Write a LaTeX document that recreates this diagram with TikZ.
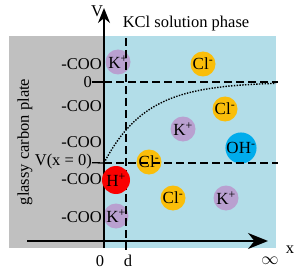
\documentclass[tikz,border=0pt]{standalone}
\usepackage{fontspec}
\setmainfont{Liberation Serif}
\usepackage{tikz}
\usetikzlibrary{arrows.meta,positioning}

\definecolor{plategray}{RGB}{192,192,192}
\definecolor{solblue}{RGB}{178,221,232}
\definecolor{kpurple}{RGB}{185,160,208}
\definecolor{clyellow}{RGB}{250,190,10}
\definecolor{ohblue}{RGB}{0,172,236}
\definecolor{hred}{RGB}{250,0,0}

\tikzset{
  ion/.style={circle,inner sep=0pt,minimum size=25pt,font=\fontsize{17}{19}\selectfont},
  kion/.style={ion,fill=kpurple},
  clion/.style={ion,fill=clyellow},
  ohion/.style={ion,fill=ohblue,minimum size=27pt},
  hion/.style={ion,fill=hred,minimum size=28pt},
  lbl/.style={font=\fontsize{16.5}{18}\selectfont,inner sep=0pt},
  guide/.style={dash pattern=on 8pt off 4pt,line width=1.3pt}
}

\begin{document}
\begin{tikzpicture}[x=1pt,y=-1pt]
\useasboundingbox (0,0) rectangle (300,270);

% Plate and solution
\fill[plategray] (9,36) rectangle (104,248);
\fill[solblue] (104,36) rectangle (276,248);
\node[lbl,rotate=90] (plate) at (25,142) {glassy carbon plate};
\node[lbl] (phase) at (186,24) {KCl solution phase};

% Surface groups
\foreach \y [count=\i] in {64,106,142,179,217}
  \node[lbl,anchor=east] (coo\i) at (102,\y) {-COO};

% Ions (under the guide lines)
\node[kion] (k1) at (118,62) {K\textsuperscript{+}};
\node[clion] (cl1) at (203,64) {Cl\textsuperscript{-}};
\node[clion] (cl2) at (225,109) {Cl\textsuperscript{-}};
\node[kion] (k2) at (183,129) {K\textsuperscript{+}};
\node[ohion] (oh) at (241,148) {OH\textsuperscript{-}};
\node[clion] (cl3) at (149,162) {Cl\textsuperscript{-}};
\node[clion] (cl4) at (173,198) {Cl\textsuperscript{-}};
\node[kion] (k3) at (226,198) {K\textsuperscript{+}};
\node[kion] (k4) at (116,216) {K\textsuperscript{+}};

% Axes
\coordinate (origin) at (104,248);
\coordinate (vtop) at (104,8);
\coordinate (xstart) at (27,241);
\coordinate (xend) at (268,241);
\draw[line width=1.8pt,-{Stealth[length=15pt,width=12pt]}] (origin) -- (vtop);
\draw[line width=2pt,-{Stealth[length=20pt,width=16pt]}] (xstart) -- (xend);
\node[lbl] (vlabel) at (97,11) {V};
\node[lbl] (xlabel) at (290,250) {x};
\node[lbl] (xzero) at (100,261) {0};
\node[lbl] (dlabel) at (128,261) {d};
\node[lbl] (xinf) at (270,261) {$\infty$};

% Reference levels
\node[lbl,anchor=east] (zero) at (92,82) {0};
\node[lbl,anchor=east] (vx0) at (92,162) {V(x = 0)};
\coordinate (vzero) at (104,82);
\coordinate (vzeroend) at (278,82);
\coordinate (vsurf) at (104,163);
\coordinate (vsurfend) at (278,163);
\coordinate (dtop) at (126,38);
\coordinate (dbottom) at (126,252);
\draw[line width=1.3pt] (zero) -- (vzero);
\draw[line width=1.3pt] (vx0) -- (vsurf);
\draw[guide] (vzero) -- (vzeroend);
\draw[guide] (vsurf) -- (vsurfend);
\draw[guide] (dtop) -- (dbottom);

% Potential profile
\draw[dash pattern=on 1.4pt off 1.4pt,line width=1.4pt] plot[domain=104:276,samples=60]
  (\x,{82+81*exp(-(\x-104)/42)});

% Proton on top
\node[hion] (h) at (116,180) {H\textsuperscript{+}};
\end{tikzpicture}
\end{document}
